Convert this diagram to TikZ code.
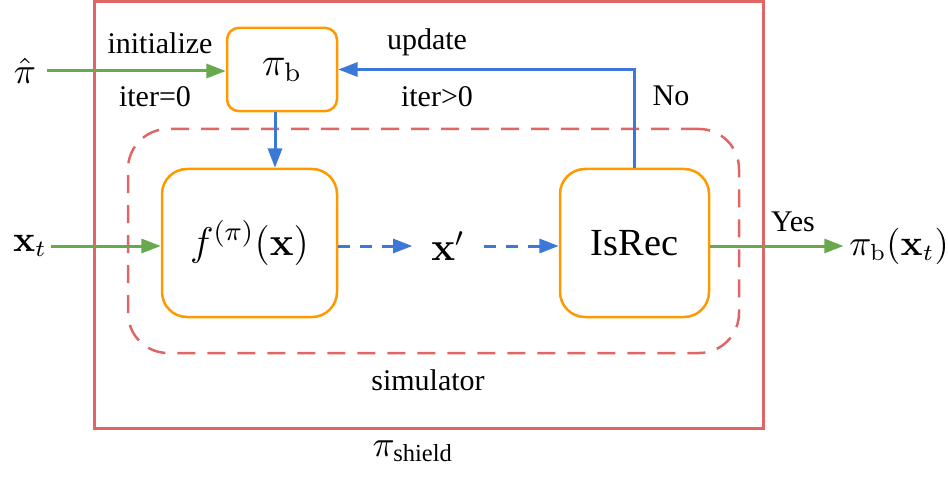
\documentclass[tikz,border=0pt]{standalone}
\usepackage{amsmath}
\usepackage[no-math]{fontspec}
\setmainfont{Liberation Serif}
\usetikzlibrary{arrows.meta,positioning}
\definecolor{shieldred}{RGB}{224,102,102}
\definecolor{boxorange}{RGB}{255,153,0}
\definecolor{flowblue}{RGB}{60,120,216}
\definecolor{flowgreen}{RGB}{106,168,79}
\tikzset{
  block/.style={
    draw=boxorange,
    line width=0.75pt,
    rounded corners=7.5pt,
    align=center,
    fill=white,
    inner sep=0pt
  },
  tag/.style={font=\fontsize{9}{11}\selectfont, inner sep=1pt},
  mathtag/.style={font=\fontsize{10.5}{12}\selectfont, inner sep=3pt},
  green flow/.style={-{Triangle[length=5.8pt,width=4.2pt]}, line width=0.9pt, draw=flowgreen},
  blue flow/.style={-{Triangle[length=5.8pt,width=4.2pt]}, line width=0.9pt, draw=flowblue},
  sim flow/.style={blue flow, dash pattern=on 3.6pt off 3pt}
}

\begin{document}
\begin{tikzpicture}[x=0.3pt, y=-0.3pt]
    \useasboundingbox (0,0) rectangle (948,491);
    % frames
    \node[draw=shieldred, line width=0.9pt, minimum width=200.7pt, minimum height=127.8pt] (shield) at (428.5,215) {};
    \node[draw=shieldred, line width=0.75pt, dash pattern=on 5.4pt off 3.6pt, rounded corners=12pt, minimum width=183.3pt, minimum height=67.2pt] (sim) at (433.5,241) {};
    % blocks
    \node[block, rounded corners=3.6pt, minimum width=33pt, minimum height=25pt, font=\fontsize{11.5}{13}\selectfont] (pib) at (282,69.5) {$\pi_{\mathrm{b}}$};
    \node[block, minimum width=52.5pt, minimum height=44.4pt, font=\fontsize{12}{14}\selectfont] (fx) at (249.5,243) {$f^{(\pi)}(\mathbf{x})$};
    \node[block, minimum width=44.7pt, minimum height=44.4pt, font=\fontsize{11.5}{14}\selectfont] (isrec) at (634.5,243) {IsRec};
    % inputs and outputs
    \node[mathtag] (pihat) at (25,71) {$\hat{\pi}$};
    \node[mathtag, inner sep=1pt] (xt) at (30,246) {$\mathbf{x}_t$};
    \node[mathtag, font=\fontsize{12}{14}\selectfont, minimum width=21pt] (xp) at (448,246) {$\mathbf{x}'$};
    \node[mathtag, inner sep=1.5pt] (out) at (899,246) {$\pi_{\mathrm{b}}(\mathbf{x}_t)$};
    % labels
    \node[tag] (init) at (160,43) {initialize};
    \node[tag] (iter0) at (155,97) {iter=0};
    \node[tag] (upd) at (427,42) {update};
    \node[tag] (iterp) at (437,97) {iter>0};
    \node[tag] (no) at (671,96) {No};
    \node[tag] (yes) at (793,222) {Yes};
    \node[tag] (simlabel) at (428,380) {simulator};
    \node[mathtag] (shieldlabel) at (413,451) {$\pi_{\text{shield}}$};
    % connectors
    \draw[green flow] (pihat) -- (pihat -| pib.west);
    \draw[blue flow] (isrec.north) |- (pib.east);
    \draw[blue flow] ([xshift=-2.1pt]pib.south) -- ([xshift=-2.1pt]pib.south |- fx.north);
    \draw[green flow] (xt) -- (xt -| fx.west);
    \draw[sim flow] (fx.east |- xp) -- (xp);
    \draw[sim flow] (xp) -- (xp -| isrec.west);
    \draw[green flow] (isrec.east |- out) -- (out);
  \end{tikzpicture}
\end{document}
